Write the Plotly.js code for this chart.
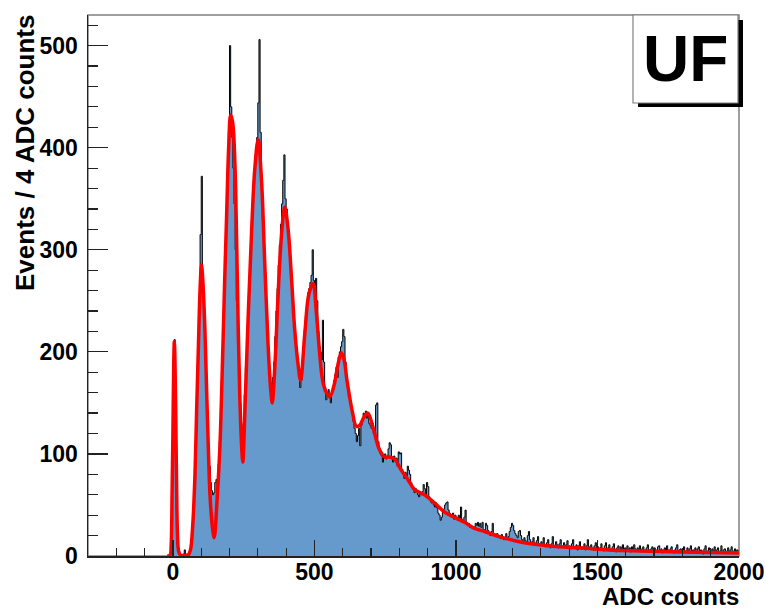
<!DOCTYPE html>
<html>
<head>
<meta charset="utf-8">
<script src="https://cdn.plot.ly/plotly-3.0.1.min.js"></script>
<style>html,body{margin:0;padding:0;background:#fff;}#chart{width:766px;height:611px;}</style>
</head>
<body>
<div id="chart"></div>
<script>
// ---- Data ----
const binLowEdge = -20;   // first bin lower edge (ADC counts)
const binWidth = 4;       // Events / 4 ADC counts

// Histogram counts, one value per 4-ADC bin (first row: -20..0, then one row per 100 ADC counts)
const eventsPer4ADC = [
  0, 0, 0, 3, 70,
  185, 212, 150, 45, 10, 3, 1, 0, 1, 2, 6, 1, 2, 0, 3, 6, 14, 22, 45, 72, 120, 165, 205, 250, 315,
  372, 275, 245, 205, 170, 135, 110, 88, 72, 64, 60, 62, 72, 75, 70, 90, 112, 145, 180, 225, 262, 300, 338, 375, 415,
  500, 440, 410, 380, 345, 300, 250, 210, 175, 150, 128, 118, 130, 158, 185, 212, 240, 265, 292, 320, 342, 362, 380, 395, 410,
  444, 506, 415, 370, 330, 305, 275, 245, 220, 200, 182, 170, 168, 175, 190, 215, 240, 262, 285, 305, 325, 345, 368, 393, 350,
  340, 325, 310, 290, 272, 255, 238, 225, 210, 198, 190, 180, 165, 172, 185, 200, 222, 235, 248, 258, 262, 268, 275, 300, 270,
  265, 272, 250, 220, 205, 200, 192, 231, 190, 165, 153, 158, 163, 155, 150, 160, 162, 172, 178, 185, 175, 195, 200, 205, 210,
  222, 215, 190, 175, 165, 155, 150, 145, 140, 132, 125, 120, 112, 118, 125, 108, 128, 132, 140, 138, 142, 135, 140, 130, 128,
  125, 130, 120, 118, 148, 150, 112, 105, 100, 98, 92, 96, 100, 95, 98, 105, 111, 109, 95, 92, 98, 94, 96, 88, 102,
  100, 101, 85, 80, 76, 82, 78, 88, 84, 80, 72, 68, 65, 62, 66, 64, 60, 58, 62, 60, 63, 70, 66, 60, 72,
  68, 58, 55, 52, 54, 50, 48, 52, 47, 42, 40, 35, 38, 44, 46, 50, 52, 53, 45, 42, 40, 38, 42, 36, 40,
  38, 35, 40, 37, 48, 36, 34, 38, 45, 33, 30, 32, 28, 30, 27, 29, 26, 32, 30, 33, 29, 32, 28, 33, 26,
  24, 32, 30, 25, 22, 20, 24, 32, 22, 20, 19, 22, 18, 20, 17, 21, 19, 16, 18, 22, 17, 19, 24, 28, 32,
  30, 25, 22, 20, 18, 24, 25, 20, 16, 14, 18, 15, 13, 20, 24, 16, 12, 14, 18, 13, 11, 15, 19, 12, 10,
  14, 12, 18, 10, 9, 13, 16, 11, 8, 12, 19, 10, 9, 14, 11, 8, 12, 16, 10, 9, 13, 8, 11, 15, 9,
  10, 7, 12, 16, 9, 8, 11, 6, 10, 14, 7, 9, 8, 12, 6, 10, 16, 9, 7, 11, 8, 6, 10, 13, 7,
  9, 6, 8, 12, 7, 5, 10, 13, 6, 8, 11, 5, 7, 9, 12, 6, 4, 8, 10, 6, 9, 7, 11, 5, 8,
  7, 10, 5, 8, 4, 9, 6, 11, 7, 5, 8, 6, 10, 4, 7, 9, 5, 6, 8, 11, 6, 4, 7, 9, 5,
  8, 6, 4, 9, 10, 5, 7, 3, 6, 8, 5, 10, 6, 4, 7, 9, 5, 3, 6, 8, 11, 4, 6, 7, 5,
  6, 9, 4, 5, 8, 3, 7, 10, 4, 6, 5, 8, 3, 7, 9, 4, 6, 5, 2, 7, 10, 4, 5, 8, 6,
  3, 7, 5, 9, 4, 6, 8, 3, 5, 10, 4, 6, 7, 3, 5, 8, 4, 6, 9, 3, 5, 7, 4, 6, 5
];

const fitX = [-20,-10,-6,-3,0,3,5,7,10,13,
  16,20,26,35,54,62,70,78,84,90,
  96,101,106,113,119,125,131,140,146,156,
  166,175,183,190,197,204,211,219,225,231,
  236,242,247,254,266,278,289,301,313,324,
  336,345,351,360,371,383,395,407,419,430,
  442,451,466,480,495,507,518,529,542,554,
  570,582,595,605,615,635,648,660,675,689,
  706,730,748,765,783,807,830,854,889,924,
  960,995,1030,1066,1101,1154,1224,1295,1365,1436,
  1542,1650,1800,2000];
const fitY = [0,1,12,60,120,190,210,195,140,70,
  22,5,1,0.5,1,6,30,80,145,205,
  262,285,268,222,163,107,60,27,18,55,
  107,189,271,336,400,432,425,385,310,220,
  160,112,92,140,235,318,378,408,368,290,
  208,165,150,185,252,312,342,320,272,223,
  188,172,218,256,267,238,200,172,160,156,
  168,186,199,192,172,140,127,128,136,140,
  127,104,97,97,95,84,75,65,60,52,
  43,38,33,27,24,19,14,11,9,8,
  6,5,4,3];

const xTitle = 'ADC counts';
const yTitle = 'Events / 4 ADC counts';
const logoText = 'UF';

// ---- Build ----
const binCenters = eventsPer4ADC.map((_, i) => binLowEdge + binWidth * i + binWidth / 2);

const L = 88, R = 739, T = 15, B = 556, W = 766, H = 611;
const pxX = x => (x - L) / (R - L);
const pxY = y => (B - y) / (B - T);

const FONT = 'Liberation Sans, Arial, Helvetica, sans-serif';

const traces = [
  {
    type: 'scatter', mode: 'lines',
    x: binCenters, y: eventsPer4ADC,
    line: { shape: 'hvh', color: '#000000', width: 1 },
    fill: 'tozeroy', fillcolor: '#6699cc',
    hoverinfo: 'x+y'
  },
  {
    type: 'scatter', mode: 'lines',
    x: fitX, y: fitY,
    line: { shape: 'spline', smoothing: 1, color: '#ff0000', width: 3.5 },
    hoverinfo: 'x+y'
  }
];

const layout = {
  width: W, height: H,
  margin: { l: L, r: W - R, t: T, b: H - B, pad: 0 },
  paper_bgcolor: '#ffffff', plot_bgcolor: '#ffffff',
  showlegend: false,
  font: { family: FONT, color: '#000' },
  xaxis: {
    range: [-300, 2000], tick0: 0, dtick: 500,
    ticks: 'inside', ticklen: 16, tickwidth: 1.2, tickcolor: '#222',
    minor: { dtick: 100, tick0: 0, ticks: 'inside', ticklen: 8, tickwidth: 1.2, tickcolor: '#222' },
    showgrid: false, zeroline: false,
    showline: true, linecolor: '#222', linewidth: 1.5,
    tickfont: { family: FONT, size: 23, weight: 'bold', color: '#000' },
    ticklabelstandoff: -5
  },
  yaxis: {
    range: [0, 530], tick0: 0, dtick: 100,
    ticks: 'inside', ticklen: 20, tickwidth: 1.2, tickcolor: '#222',
    minor: { dtick: 20, tick0: 0, ticks: 'inside', ticklen: 10, tickwidth: 1.2, tickcolor: '#222' },
    showgrid: false, zeroline: false,
    showline: true, linecolor: '#222', linewidth: 1.5,
    tickfont: { family: FONT, size: 23, weight: 'bold', color: '#000' },
    ticklabelstandoff: 4
  },
  shapes: [
    // gray frame (top/right)
    { type: 'rect', xref: 'paper', yref: 'paper', x0: 0, x1: 1, y0: 0, y1: 1,
      line: { color: '#808080', width: 1.5 }, fillcolor: 'rgba(0,0,0,0)', layer: 'below' },
    // logo shadow
    { type: 'rect', xref: 'paper', yref: 'paper',
      x0: pxX(638), x1: pxX(743), y0: pxY(107), y1: pxY(20),
      line: { width: 0 }, fillcolor: '#000000' },
    // logo box
    { type: 'rect', xref: 'paper', yref: 'paper',
      x0: pxX(633), x1: pxX(738), y0: pxY(103), y1: pxY(15),
      line: { color: '#808080', width: 1.2 }, fillcolor: '#ffffff' }
  ],
  annotations: [
    { text: xTitle, xref: 'paper', yref: 'paper', x: pxX(740), y: pxY(596),
      xanchor: 'right', yanchor: 'middle', showarrow: false, borderpad: 0,
      font: { family: FONT, size: 24, weight: 'bold', color: '#000' } },
    { text: yTitle, xref: 'paper', yref: 'paper', x: pxX(25), y: pxY(13),
      xanchor: 'center', yanchor: 'top', textangle: -90, showarrow: false,
      font: { family: FONT, size: 26, weight: 'bold', color: '#000' } },
    { text: logoText, xref: 'paper', yref: 'paper', x: pxX(685.5), y: pxY(59),
      xanchor: 'center', yanchor: 'middle', showarrow: false,
      font: { family: FONT, size: 64, weight: 'bold', color: '#000' } }
  ]
};

Plotly.newPlot('chart', traces, layout, { displayModeBar: false, staticPlot: true });
</script>
</body>
</html>
